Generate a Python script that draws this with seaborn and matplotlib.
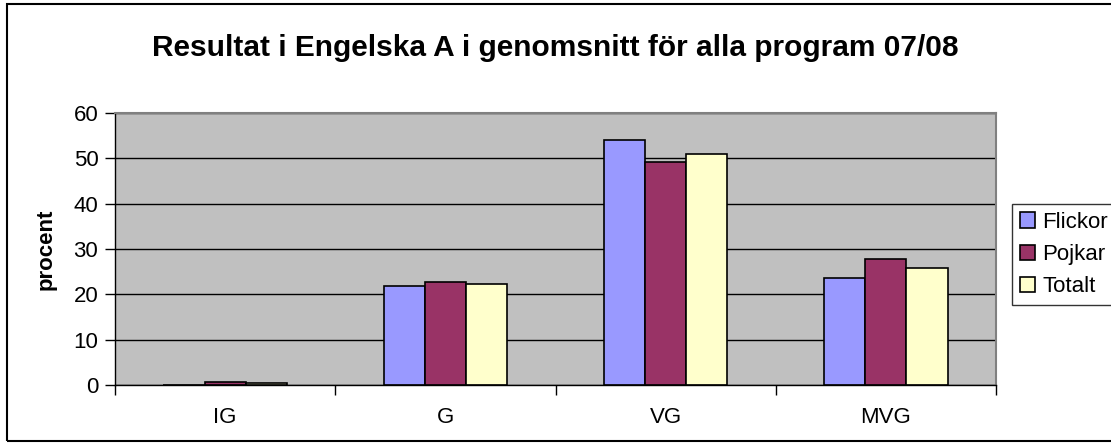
import matplotlib
matplotlib.use("Agg")
import matplotlib.pyplot as plt
import seaborn as sns
import pandas as pd
from matplotlib.patches import Rectangle

categories = ["IG", "G", "VG", "MVG"]
series = ["Flickor", "Pojkar", "Totalt"]
flickor = [0.0, 21.8, 54.0, 23.7]
pojkar = [0.7, 22.8, 49.2, 27.9]
totalt = [0.4, 22.2, 51.0, 25.7]
colors = ["#9999FF", "#993366", "#FFFFCC"]

rows = []
for name, vals in zip(series, [flickor, pojkar, totalt]):
    for c, v in zip(categories, vals):
        rows.append({"kategori": c, "serie": name, "procent": v})
df = pd.DataFrame(rows)

sns.set_theme(style="white")
plt.rcParams["font.family"] = ["Liberation Sans", "DejaVu Sans"]
for k in ["text.color", "axes.labelcolor", "xtick.color", "ytick.color"]:
    plt.rcParams[k] = "black"

fig = plt.figure(figsize=(11.11, 4.45), dpi=100)
ax = fig.add_axes([115/1111, 1-385/445, (996-115)/1111, (385-113)/445])
ax.set_facecolor("#C0C0C0")

sns.barplot(data=df, x="kategori", y="procent", hue="serie", order=categories,
            hue_order=series, palette=colors, width=0.56, edgecolor="black",
            linewidth=1.2, ax=ax, errorbar=None, saturation=1)

ax.set_ylim(0, 60)
ax.set_xlim(-0.5, 3.5)
ax.set_yticks(range(0, 61, 10))
ax.yaxis.grid(True, color="black", linewidth=1)
ax.set_axisbelow(True)
ax.tick_params(axis="y", labelsize=16, length=7, width=1, direction="out", color="black", left=True, pad=5)
ax.set_xticks([-0.5, 0.5, 1.5, 2.5, 3.5])
ax.set_xticklabels([])
ax.set_xticks(range(4), minor=True)
ax.set_xticklabels(categories, minor=True)
ax.tick_params(axis="x", which="major", length=7, width=1, direction="out", color="black", bottom=True)
ax.tick_params(axis="x", which="minor", length=0, labelsize=16, pad=16)
ax.set_xlabel("")
ax.set_ylabel("procent", fontsize=16, fontweight="bold", labelpad=12)

for s in ["left", "bottom"]:
    ax.spines[s].set_color("black")
    ax.spines[s].set_linewidth(1)
for s in ["top", "right"]:
    ax.spines[s].set_color("#808080")
    ax.spines[s].set_linewidth(1.5)

leg = ax.legend(title=None, loc="center left", bbox_to_anchor=(1.018, 0.48),
                fontsize=16, frameon=True, fancybox=False, edgecolor="black",
                handlelength=0.68, handleheight=0.68, handletextpad=0.32,
                borderpad=0.36, labelspacing=0.5, borderaxespad=0)
leg.get_frame().set_linewidth(1)

fig.text(0.5, 1-48/445, "Resultat i Engelska A i genomsnitt för alla program 07/08",
         ha="center", va="center", fontsize=21.5, fontweight="bold")

fig.patches.append(Rectangle((7/1111, 4/445), 1.0, 1-8/445, transform=fig.transFigure,
                             fill=False, edgecolor="black", linewidth=1.5, clip_on=False))

fig.savefig("out.png", dpi=100, facecolor="white")
